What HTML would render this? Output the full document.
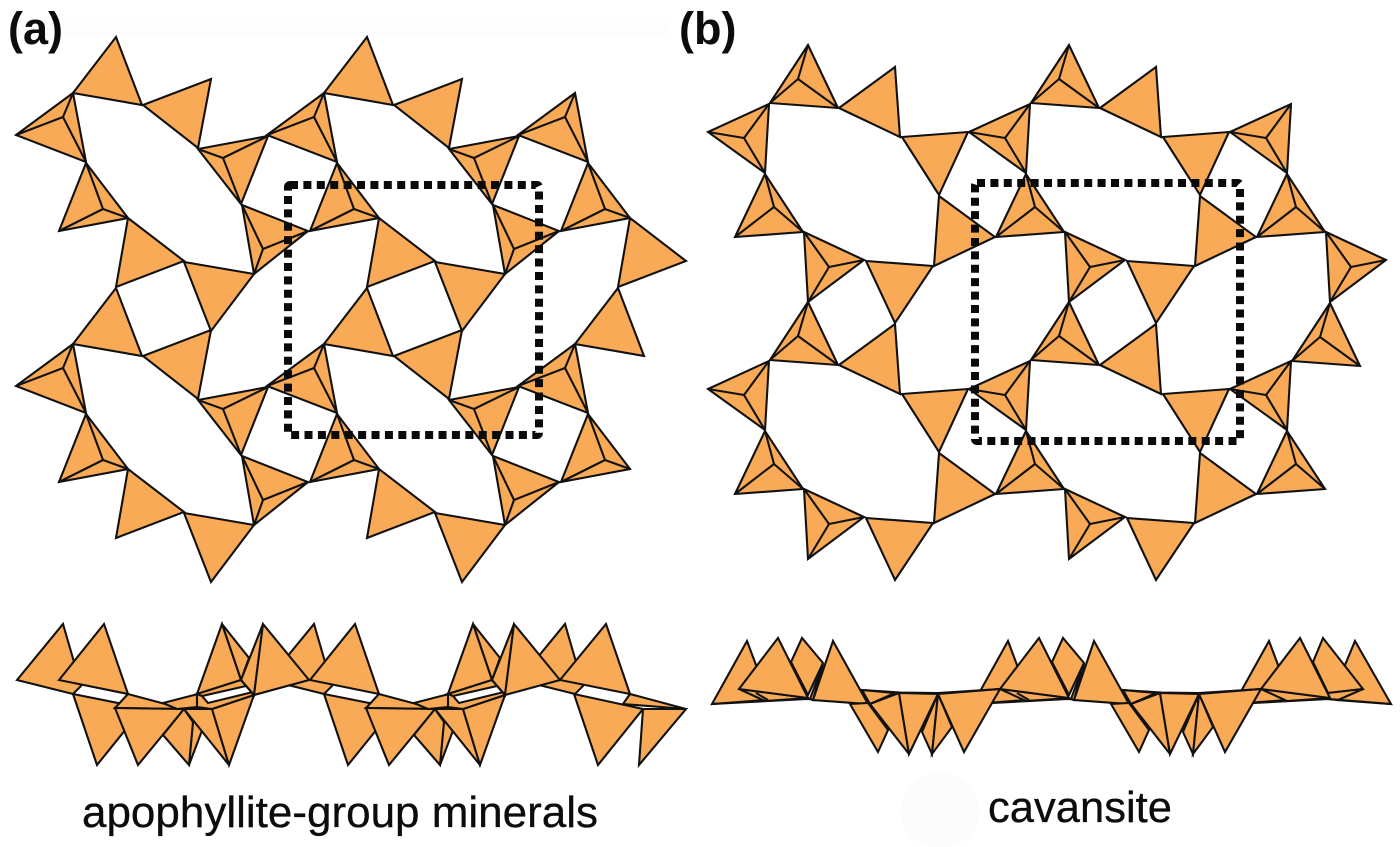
<!DOCTYPE html>
<html lang="en">
<head>
<meta charset="utf-8">
<title>Apophyllite-group minerals and cavansite</title>
<style>
html,body{margin:0;padding:0;background:#fff;width:1400px;height:847px;overflow:hidden}
svg{display:block}
polygon{fill:#f9aa57;stroke:#111;stroke-width:2.1;stroke-linejoin:miter}
.l{fill:none;stroke:#111;stroke-width:2.1}
.d{fill:none;stroke:#0a0a0a;stroke-width:8;stroke-dasharray:8 5.4}
text{font-family:"Liberation Sans",sans-serif;fill:#0c0c0c}
</style>
</head>
<body>
<svg width="1400" height="847" viewBox="0 0 1400 847" xmlns="http://www.w3.org/2000/svg">
<defs>
<g id="aA"><polygon points="16,135 73,93 86,162"/><path class="l" d="M63,117L16,135M63,117L73,93M63,117L86,162"/></g>
<g id="aB"><polygon points="86,163 59,231 128,218"/><path class="l" d="M103,209L86,163M103,209L59,231M103,209L128,218"/></g>
<g id="aT1"><polygon points="116,37 73,93 142,105"/></g>
<g id="aT3"><polygon points="128,218 116,287 184,261"/></g>
<g id="aCell">
<use href="#aT1"/>
<polygon points="143,105 211,79 198,148"/>
<use href="#aA"/><use href="#aB"/>
<polygon points="198,149 268,136 241,204"/>
<path class="l" d="M223,158L198,149M223,158L268,136M223,158L241,204"/>
<polygon points="242,205 308,231 254,274"/>
<path class="l" d="M263,249L242,205M263,249L308,231M263,249L254,274"/>
<use href="#aT3"/>
<polygon points="184,262 254,274 211,331"/>
</g>

<g id="bP"><polygon points="808,45 770,103 838,108"/><path class="l" d="M798,79L808,45M798,79L770,103M798,79L838,108"/></g>
<g id="bR"><polygon points="708,132 769,104 765,173"/><path class="l" d="M744,138L708,132M744,138L769,104M744,138L765,173"/></g>
<g id="bS"><polygon points="765,174 735,237 803,232"/><path class="l" d="M774,207L765,174M774,207L735,237M774,207L803,232"/></g>
<g id="bW"><polygon points="804,232 864,260 808,302"/><path class="l" d="M829,267L804,232M829,267L864,260M829,267L808,302"/></g>
<g id="bCell">
<use href="#bP"/>
<polygon points="839,108 895,67 900,137"/>
<use href="#bR"/><use href="#bS"/>
<polygon points="902,137 968,132 939,195"/>
<polygon points="939,196 995,237 934,266"/>
<use href="#bW"/>
<polygon points="866,261 933,266 895,323"/>
</g>

<polygon id="sa0" points="17,680 63,624 81,686 73,694"/>
<g id="saL">
<polygon points="73,694 97,765 143,708"/>
<polygon points="59,680 104,624 128,694"/>
</g>
<g id="saM">
<polygon points="128,694 115,708 184,709"/>
<polygon points="115,708 138,765 184,709"/>
</g>
<g id="saR">
<polygon points="163,703 198,694 197,707 177,709"/>
<polygon points="193,720 189,765 203,728"/>
<polygon points="184,709 163,735 189,765 193,722"/>
<polygon points="184,709 229,765 212,709"/>
<polygon points="212,709 229,765 254,695"/>
<polygon points="222,624 249,658 241,680"/>
<polygon points="197,694 222,624 241,680"/>
<polygon style="fill-rule:evenodd" points="197,694 241,680 254,695 212,709 197,707 197,694 202,696 208,703 253,692 246,686 202,696"/>
<polygon points="241,680 263,624 254,695"/>
<polygon points="263,624 309,680 254,695"/>
</g>

<polygon id="sb0" points="712,704 747,641 768,697 765,700"/>
<g id="sbL">
<polygon points="739,689 808,698 765,701"/>
<polygon points="739,689 778,638 808,698"/>
<path class="l" d="M712,704L807,699L870,704M756,693L768,700"/>
</g>
<g id="sbB"><polygon points="791,662 802,638 823,663 808,695"/></g>
<g id="sbM">
<polygon points="823,664 810,699 813,700"/>
<polygon points="813,700 833,641 868,704"/>
<polygon points="862,690 895,693 870,704"/>
<polygon points="850,704 878,752 888,730 868,703"/>
<polygon points="870,704 909,754 899,693"/>
<polygon points="899,693 909,754 938,694"/>
<polygon points="922,732 932,754 938,694"/>
<polygon points="932,754 938,694 952,727"/>
<polygon points="938,694 964,752 1000,689"/>
<path class="l" d="M862,690L900,692.5L938,693L1000,689"/>
</g>
</defs>

<rect width="1400" height="847" fill="#fff"/>
<rect x="10" y="18" width="660" height="18" fill="#fdfdfd"/>
<ellipse cx="940" cy="811" rx="39" ry="38" fill="#fcfcfc"/>

<!-- Panel a -->
<use href="#aCell"/>
<use href="#aCell" x="251"/>
<use href="#aCell" y="251"/>
<use href="#aCell" x="251" y="251"/>
<use href="#aA" x="502"/><use href="#aB" x="502"/><use href="#aT3" x="502"/>
<use href="#aA" x="502" y="251"/><use href="#aB" x="502" y="251"/><use href="#aT1" x="502" y="251"/>
<rect class="d" x="288" y="185" width="251" height="250" rx="2"/>

<!-- Panel b -->
<use href="#bCell"/>
<use href="#bCell" x="261"/>
<use href="#bCell" y="257"/>
<use href="#bCell" x="261" y="257"/>
<use href="#bR" x="522"/><use href="#bS" x="522"/><use href="#bW" x="522"/>
<use href="#bR" x="522" y="257"/><use href="#bS" x="522" y="257"/><use href="#bP" x="522" y="258"/>
<rect class="d" x="975" y="183" width="265" height="258" rx="2"/>

<!-- Strip a -->
<use href="#sa0"/><use href="#sa0" x="251"/><use href="#sa0" x="502"/>
<use href="#saL"/><use href="#saM"/><use href="#saR"/>
<use href="#saL" x="251"/><use href="#saM" x="251"/><use href="#saR" x="251"/>
<polygon points="630,694 623,704 686,709"/>
<polygon points="643,709 639,765 686,709"/>
<polygon points="574,694 598,765 643,709"/>
<polygon points="560,680 606,624 630,694"/>

<!-- Strip b -->
<use href="#sb0"/><use href="#sb0" x="261"/><use href="#sb0" x="522"/>
<use href="#sbB"/><use href="#sbB" x="261"/>
<polygon points="1345,665 1355,641 1391,704 1337,700"/>
<polygon points="1313,662 1323,638 1363,689 1328,693"/>
<use href="#sbL"/><use href="#sbL" x="261"/>
<polygon points="1261,689 1330,698 1287,701"/>
<polygon points="1328,693 1363,689 1338,700 1328,699"/>
<path class="l" d="M1234,704L1329,699L1391,704"/>
<polygon points="1261,689 1300,638 1330,698"/>
<use href="#sbM"/><use href="#sbM" x="261"/>

<!-- Labels -->
<text x="8" y="44" font-size="45" font-weight="700">(a)</text>
<text x="679" y="44" font-size="45" font-weight="700">(b)</text>
<text x="82" y="827" font-size="44" textLength="516" lengthAdjust="spacingAndGlyphs" stroke="#0c0c0c" stroke-width="0.3">apophyllite-group minerals</text>
<text x="988" y="822" font-size="44" textLength="184" lengthAdjust="spacingAndGlyphs" stroke="#0c0c0c" stroke-width="0.3">cavansite</text>
</svg>
</body>
</html>
